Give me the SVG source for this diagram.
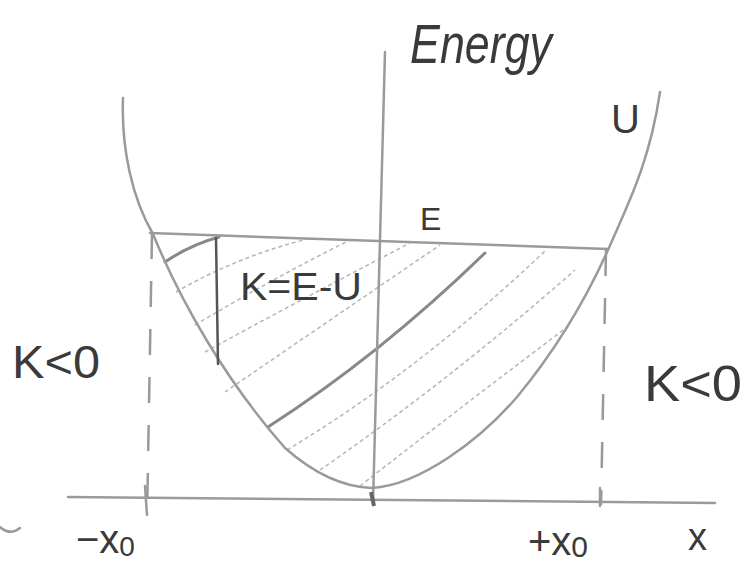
<svg xmlns="http://www.w3.org/2000/svg" width="745" height="565" viewBox="0 0 745 565">
<style>
.ln{fill:none;stroke:#9a9a9a;stroke-width:2.5;stroke-linecap:round;stroke-linejoin:round}
.dk{fill:none;stroke:#555;stroke-width:2.5;stroke-linecap:round}
.ht{fill:none;stroke:#b5b5b5;stroke-width:1.5;stroke-dasharray:4 3}
.hb{fill:none;stroke:#888;stroke-width:3;stroke-linecap:round}
.dash{fill:none;stroke:#999;stroke-width:2.5;stroke-dasharray:26 22}
.t{font-family:"Liberation Sans","DejaVu Sans",sans-serif;fill:#3a3a3a}
</style>
<rect width="745" height="565" fill="#fff"/>
<g id="hatching">
<path class="hb" d="M165,262 Q190,245 219,237"/>
<path class="ht" d="M176,292 Q240,255 312,238"/>
<path class="ht" d="M195,325 Q270,280 350,240"/>
<path class="ht" d="M205,352 Q300,300 410,243"/>
<path class="ht" d="M225,392 Q330,320 440,245"/>
<path class="hb" d="M268,427 Q380,355 485,253"/>
<path class="ht" d="M287,450 Q420,370 545,251"/>
<path class="ht" d="M320,470 Q450,380 575,270"/>
<path class="ht" d="M360,486 Q470,400 570,325"/>
</g>
<g id="axes">
<path class="ln" d="M385,52 L373,503"/>
<path class="ln" d="M68,497 L715,503"/>
<path class="ln" d="M145,486 L147,515"/>
<path class="ln" d="M600,488 L600,506"/>
<path d="M371,492 L374,506" stroke="#666" stroke-width="4"/>
<path class="ln" d="M0,527 Q10,536 20,528"/>
</g>
<g id="U-curve">
<path class="ln" d="M123,98 C121,150 133,200 153,234 C180,300 225,380 285,448 C310,470 340,487 372,488 C420,485 480,440 517,397 C560,345 590,290 608,250 C630,200 650,160 660,92"/>
</g>
<g id="E-line">
<path class="ln" d="M150,233 L608,249"/>
</g>
<g id="dashes">
<path class="dash" d="M152,233 L147,520"/>
<path class="dash" d="M606,250 L601,505"/>
</g>
<g id="K-line">
<path class="dk" d="M216,238 L218,364"/>
</g>
<g id="labels">
<text class="t" x="410" y="63" font-size="56" textLength="142" lengthAdjust="spacingAndGlyphs" font-style="italic">Energy</text>
<text class="t" x="420" y="230" font-size="32">E</text>
<text class="t" x="611" y="133" font-size="40">U</text>
<text class="t" x="240" y="300" font-size="38" textLength="122" lengthAdjust="spacingAndGlyphs">K=E-U</text>
<text class="t" x="12" y="378" font-size="46" textLength="88" lengthAdjust="spacingAndGlyphs">K&lt;0</text>
<text class="t" x="644" y="401" font-size="50" textLength="98" lengthAdjust="spacingAndGlyphs">K&lt;0</text>
<text class="t" x="76" y="553" font-size="40">−x<tspan font-size="28" dy="3">0</tspan></text>
<text class="t" x="528" y="555" font-size="40">+x<tspan font-size="30" dy="2">0</tspan></text>
<text class="t" x="688" y="550" font-size="38">x</text>
</g>
</svg>
